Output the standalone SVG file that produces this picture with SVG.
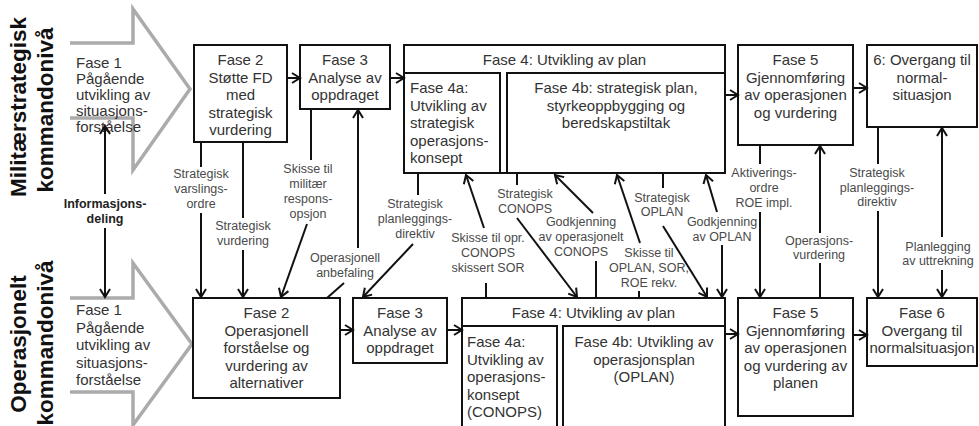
<svg xmlns="http://www.w3.org/2000/svg" width="979" height="426" viewBox="0 0 979 426">
<defs>
<style>
.box{fill:#fff;stroke:#111;stroke-width:2}
.t{font-family:"Liberation Sans",Arial,sans-serif;font-size:15px;fill:#333}
.m{text-anchor:middle}
.lb{font-family:"Liberation Sans",Arial,sans-serif;font-size:12.5px;fill:#4a4a4a;text-anchor:middle}
.c{stroke:#111;stroke-width:2;fill:none}
.a{marker-end:url(#ah)}
.big{fill:none;stroke:#ababab;stroke-width:3.5;stroke-linejoin:miter}
.side{font-family:"Liberation Sans",Arial,sans-serif;font-weight:bold;font-size:22.5px;fill:#111;text-anchor:middle}
.info{font-family:"Liberation Sans",Arial,sans-serif;font-weight:bold;font-size:12.5px;fill:#222;text-anchor:middle}
</style>
<marker id="ah" viewBox="-10 -7 12 14" markerWidth="12" markerHeight="14" refX="0" refY="0" orient="auto" markerUnits="userSpaceOnUse">
<path d="M-8,-5 L0,0 L-8,5" fill="none" stroke="#111" stroke-width="2"/>
</marker>
</defs>

<g id="side-labels">
<text class="side" transform="translate(26,107) rotate(-90)">Militærstrategisk</text>
<text class="side" transform="translate(53,110) rotate(-90)">kommandonivå</text>
<text class="side" transform="translate(26,344) rotate(-90)">Operasjonelt</text>
<text class="side" transform="translate(53,343) rotate(-90)">kommandonivå</text>
</g>

<g id="fase1-top">
<polyline class="big" points="70,43 133,43 133,9 190,89 133,170 133,118 70,118"/>
<text class="t" x="76" y="68">Fase 1</text>
<text class="t" x="76" y="84">Pågående</text>
<text class="t" x="76" y="100">utvikling av</text>
<text class="t" x="76" y="116">situasjons-</text>
<text class="t" x="76" y="132">forståelse</text>
</g>

<g id="fase1-bottom">
<polyline class="big" points="70,298 133,298 133,263 192,344 133,425 133,392 70,392"/>
<text class="t" x="76" y="315">Fase 1</text>
<text class="t" x="76" y="332.5">Pågående</text>
<text class="t" x="76" y="350">utvikling av</text>
<text class="t" x="76" y="367.5">situasjons-</text>
<text class="t" x="76" y="385">forståelse</text>
</g>

<g id="fase2-top">
<rect class="box" x="194" y="45" width="93" height="97"/>
<text class="t m" x="240.5" y="65">Fase 2</text>
<text class="t m" x="240.5" y="82.5">Støtte FD</text>
<text class="t m" x="240.5" y="100">med</text>
<text class="t m" x="240.5" y="117.5">strategisk</text>
<text class="t m" x="240.5" y="135">vurdering</text>
</g>

<g id="fase3-top">
<rect class="box" x="300" y="45" width="90" height="64"/>
<text class="t m" x="345" y="65">Fase 3</text>
<text class="t m" x="345" y="82.5">Analyse av</text>
<text class="t m" x="345" y="100">oppdraget</text>
</g>

<g id="fase4-top">
<rect class="box" x="404" y="45" width="321" height="128"/>
<text class="t m" x="564.5" y="65">Fase 4: Utvikling av plan</text>
<rect class="box" x="404" y="73" width="96" height="100"/>
<text class="t" x="410" y="93">Fase 4a:</text>
<text class="t" x="410" y="110.5">Utvikling av</text>
<text class="t" x="410" y="128">strategisk</text>
<text class="t" x="410" y="145.5">operasjons-</text>
<text class="t" x="410" y="163">konsept</text>
<rect class="box" x="507" y="73" width="218" height="100"/>
<text class="t m" x="616" y="93">Fase 4b: strategisk plan,</text>
<text class="t m" x="616" y="110.5">styrkeoppbygging og</text>
<text class="t m" x="616" y="128">beredskapstiltak</text>
</g>

<g id="fase5-top">
<rect class="box" x="738" y="45" width="115" height="100"/>
<text class="t m" x="795.5" y="65">Fase 5</text>
<text class="t m" x="795.5" y="82.5">Gjennomføring</text>
<text class="t m" x="795.5" y="100">av operasjonen</text>
<text class="t m" x="795.5" y="117.5">og vurdering</text>
</g>

<g id="fase6-top">
<rect class="box" x="867" y="45" width="110" height="82"/>
<text class="t m" x="922" y="65">6: Overgang til</text>
<text class="t m" x="922" y="82.5">normal-</text>
<text class="t m" x="922" y="100">situasjon</text>
</g>

<g id="fase2-bottom">
<rect class="box" x="193" y="298" width="147" height="100"/>
<text class="t m" x="266.5" y="318">Fase 2</text>
<text class="t m" x="266.5" y="335.5">Operasjonell</text>
<text class="t m" x="266.5" y="353">forståelse og</text>
<text class="t m" x="266.5" y="370.5">vurdering av</text>
<text class="t m" x="266.5" y="388">alternativer</text>
</g>

<g id="fase3-bottom">
<rect class="box" x="353" y="298" width="94" height="65"/>
<text class="t m" x="400" y="318">Fase 3</text>
<text class="t m" x="400" y="335.5">Analyse av</text>
<text class="t m" x="400" y="353">oppdraget</text>
</g>

<g id="fase4-bottom">
<rect class="box" x="462" y="298" width="263" height="140"/>
<text class="t m" x="593.5" y="318">Fase 4: Utvikling av plan</text>
<rect class="box" x="462" y="326" width="95" height="112"/>
<text class="t" x="467" y="347">Fase 4a:</text>
<text class="t" x="467" y="364.5">Utvikling av</text>
<text class="t" x="467" y="382">operasjons-</text>
<text class="t" x="467" y="399.5">konsept</text>
<text class="t" x="467" y="417">(CONOPS)</text>
<rect class="box" x="563" y="326" width="162" height="112"/>
<text class="t m" x="644" y="347">Fase 4b: Utvikling av</text>
<text class="t m" x="644" y="364.5">operasjonsplan</text>
<text class="t m" x="644" y="382">(OPLAN)</text>
</g>

<g id="fase5-bottom">
<rect class="box" x="738" y="298" width="115" height="118"/>
<text class="t m" x="795.5" y="318">Fase 5</text>
<text class="t m" x="795.5" y="335.5">Gjennomføring</text>
<text class="t m" x="795.5" y="353">av operasjonen</text>
<text class="t m" x="795.5" y="370.5">og vurdering av</text>
<text class="t m" x="795.5" y="388">planen</text>
</g>

<g id="fase6-bottom">
<rect class="box" x="867" y="298" width="110" height="68"/>
<text class="t m" x="922" y="318">Fase 6</text>
<text class="t m" x="922" y="335.5">Overgang til</text>
<text class="t m" x="922" y="353">normalsituasjon</text>
</g>

<g id="connectors">
<line class="c a" x1="287" y1="78" x2="300" y2="78"/>
<line class="c a" x1="390" y1="78" x2="404" y2="78"/>
<line class="c a" x1="725" y1="95" x2="738" y2="95"/>
<line class="c a" x1="853" y1="88" x2="867" y2="88"/>
<line class="c a" x1="340" y1="330" x2="353" y2="330"/>
<line class="c a" x1="447" y1="330" x2="462" y2="330"/>
<line class="c a" x1="725" y1="334" x2="738" y2="334"/>
<line class="c a" x1="853" y1="335" x2="867" y2="335"/>

<line class="c a" x1="105" y1="194" x2="105" y2="126"/>
<line class="c a" x1="105" y1="228" x2="105" y2="297"/>
<text class="info" x="105" y="208">Informasjons-</text>
<text class="info" x="105" y="223">deling</text>

<line class="c" x1="201" y1="142" x2="201" y2="167"/>
<line class="c a" x1="201" y1="213" x2="201" y2="297"/>
<text class="lb" x="201" y="178">Strategisk</text>
<text class="lb" x="201" y="193">varslings-</text>
<text class="lb" x="201" y="208">ordre</text>

<line class="c" x1="243" y1="142" x2="243" y2="218"/>
<line class="c a" x1="243" y1="250" x2="243" y2="297"/>
<text class="lb" x="243" y="230">Strategisk</text>
<text class="lb" x="243" y="245">vurdering</text>

<line class="c" x1="311" y1="109" x2="311" y2="160"/>
<line class="c a" x1="307" y1="224" x2="281" y2="297"/>
<text class="lb" x="308" y="173">Skisse til</text>
<text class="lb" x="308" y="188">militær</text>
<text class="lb" x="308" y="203">respons-</text>
<text class="lb" x="308" y="218">opsjon</text>

<line class="c" x1="327" y1="298" x2="344" y2="283"/>
<line class="c a" x1="358" y1="248" x2="358" y2="110"/>
<text class="lb" x="345" y="262">Operasjonell</text>
<text class="lb" x="345" y="277">anbefaling</text>

<line class="c" x1="418" y1="173" x2="418" y2="195"/>
<line class="c a" x1="413" y1="244" x2="363" y2="297"/>
<text class="lb" x="415" y="208">Strategisk</text>
<text class="lb" x="415" y="223">planleggings-</text>
<text class="lb" x="415" y="238">direktiv</text>

<line class="c" x1="486" y1="298" x2="486" y2="283"/>
<line class="c a" x1="484" y1="228" x2="466" y2="175"/>
<text class="lb" x="488" y="242">Skisse til opr.</text>
<text class="lb" x="488" y="257">CONOPS</text>
<text class="lb" x="488" y="272">skissert SOR</text>

<line class="c" x1="517" y1="173" x2="517" y2="185"/>
<line class="c a" x1="517" y1="218" x2="577" y2="297"/>
<text class="lb" x="525" y="198">Strategisk</text>
<text class="lb" x="525" y="213">CONOPS</text>

<line class="c" x1="596" y1="298" x2="596" y2="261"/>
<line class="c a" x1="593" y1="213" x2="555" y2="175"/>
<text class="lb" x="581" y="226">Godkjenning</text>
<text class="lb" x="581" y="241">av operasjonelt</text>
<text class="lb" x="581" y="256">CONOPS</text>

<line class="c" x1="639" y1="298" x2="639" y2="291"/>
<line class="c a" x1="640" y1="243" x2="617" y2="175"/>
<text class="lb" x="649" y="257">Skisse til</text>
<text class="lb" x="649" y="272">OPLAN, SOR,</text>
<text class="lb" x="649" y="287">ROE rekv.</text>

<line class="c" x1="663" y1="173" x2="663" y2="188"/>
<line class="c a" x1="663" y1="226" x2="707" y2="297"/>
<text class="lb" x="662" y="202">Strategisk</text>
<text class="lb" x="662" y="216">OPLAN</text>

<line class="c a" x1="717" y1="212" x2="706" y2="175"/>
<line class="c a" x1="722" y1="245" x2="722" y2="297"/>
<text class="lb" x="722" y="226">Godkjenning</text>
<text class="lb" x="722" y="241">av OPLAN</text>

<line class="c" x1="760" y1="145" x2="760" y2="164"/>
<line class="c a" x1="760" y1="212" x2="760" y2="297"/>
<text class="lb" x="764" y="177">Aktiverings-</text>
<text class="lb" x="764" y="192">ordre</text>
<text class="lb" x="764" y="207">ROE impl.</text>

<line class="c" x1="820" y1="298" x2="820" y2="263"/>
<line class="c a" x1="820" y1="233" x2="820" y2="146"/>
<text class="lb" x="819" y="245">Operasjons-</text>
<text class="lb" x="819" y="259">vurdering</text>

<line class="c" x1="878" y1="127" x2="878" y2="164"/>
<line class="c a" x1="878" y1="211" x2="878" y2="297"/>
<text class="lb" x="877" y="177">Strategisk</text>
<text class="lb" x="877" y="192">planleggings-</text>
<text class="lb" x="877" y="206">direktiv</text>

<line class="c a" x1="942" y1="237" x2="942" y2="128"/>
<line class="c a" x1="942" y1="270" x2="942" y2="297"/>
<text class="lb" x="938" y="251">Planlegging</text>
<text class="lb" x="938" y="265">av uttrekning</text>
</g>
</svg>
